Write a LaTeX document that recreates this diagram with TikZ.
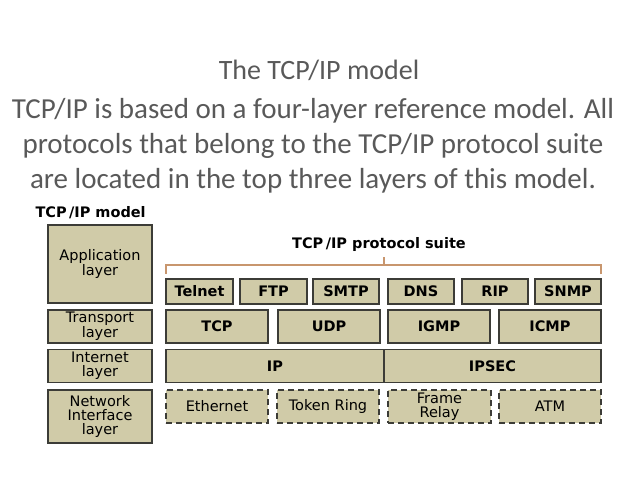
\documentclass[tikz,border=0pt]{standalone}
\usepackage{fontspec}
\setmainfont{Carlito}
\newfontfamily\dv{DejaVu Sans}
\definecolor{boxfill}{RGB}{208,203,168}
\definecolor{boxline}{RGB}{60,60,55}
\definecolor{txtgray}{RGB}{89,89,89}
\definecolor{bracec}{RGB}{200,150,110}
\begin{document}
\begin{tikzpicture}[x=1pt,y=-1pt,
  lay/.style={draw=boxline,line width=1.6pt,fill=boxfill,font=\dv\fontsize{14.5}{14}\selectfont,align=center,inner sep=0pt},
  proto/.style={lay,font=\dv\bfseries\fontsize{14.5}{14}\selectfont},
  dbox/.style={lay,dashed,dash pattern=on 6pt off 4pt}]
\useasboundingbox (0,0) rectangle (638,478);
\node[font=\fontsize{28}{30}\selectfont,text=txtgray] (title) at (319,70) {The TCP/IP model};
\node[font=\fontsize{29}{35}\selectfont,text=txtgray,align=center] (body) at (313,146)
 {TCP/IP is based on a four-layer reference model. All\\protocols that belong to the TCP/IP protocol suite\\are located in the top three layers of this model.};
\node[font=\dv\bfseries\fontsize{14.5}{14}\selectfont,anchor=west] (mt) at (32,213) {TCP\,/IP model};
\node[font=\dv\bfseries\fontsize{14.5}{14}\selectfont] (st) at (379,245) {TCP\,/IP protocol suite};
% left layers
\node[lay,minimum width=104pt,minimum height=78pt] (app) at (100,264) {Application\\layer};
\node[lay,minimum width=104pt,minimum height=33pt] (tr) at (100,326.5) {Transport\\layer};
\node[lay,minimum width=104pt,minimum height=33pt] (in) at (100,366) {Internet\\layer};
\node[lay,minimum width=104pt,minimum height=53pt] (ni) at (100,416.5) {Network\\Interface\\layer};
% brace
\draw[bracec,line width=1.3pt] (166,274) coordinate (b1) -- (166,265) -- (601,265) -- (601,274) coordinate (b2);
\draw[bracec,line width=1.3pt] (384,265) -- (384,257) coordinate (b3);
% row 1
\foreach \n/\a/\b/\t in {tel/166/233/Telnet,ftp/240/307/FTP,smtp/313/379/SMTP,dns/388/454/DNS,rip/462/528/RIP,snmp/535/601/SNMP}
  \node[proto,minimum width={\b-\a},minimum height=25pt] (\n) at ({(\a+\b)/2},291.5) {\t};
% row 2
\foreach \n/\a/\b/\t in {tcp/166/268/TCP,udp/278/380/UDP,igmp/388/490/IGMP,icmp/499/601/ICMP}
  \node[proto,minimum width={\b-\a},minimum height=33pt] (\n) at ({(\a+\b)/2},326.5) {\t};
% row 3
\node[proto,minimum width=218pt,minimum height=33pt] (ip) at (275,366) {IP};
\node[proto,minimum width=217pt,minimum height=33pt] (ipsec) at (492.5,366) {IPSEC};
% row 4
\foreach \n/\a/\b/\t in {eth/166/268/Ethernet,tok/277/379/Token Ring,fr/388/491/{Frame\\Relay},atm/499/601/ATM}
  \node[dbox,minimum width={\b-\a},minimum height=33pt] (\n) at ({(\a+\b)/2},406.5) {\t};
\end{tikzpicture}
\end{document}
